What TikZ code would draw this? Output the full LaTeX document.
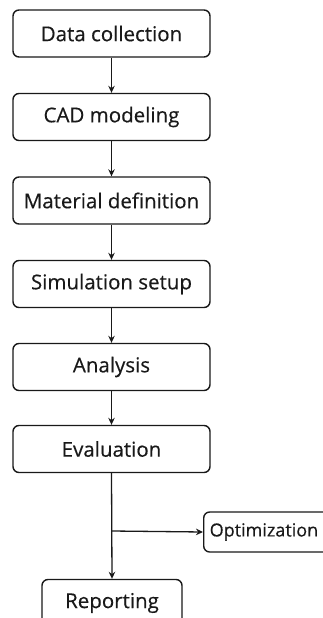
\documentclass[tikz,border=0pt]{standalone}
\usepackage{fontspec}
\setmainfont{Open Sans}[FakeBold=0.4]
\usetikzlibrary{arrows.meta}
\begin{document}
\begin{tikzpicture}[x=1pt,y=-1pt,
  stepbox/.style={draw=black!90, line width=1.4pt, rounded corners=6pt, minimum width=197pt, minimum height=47pt, inner sep=0pt, font=\fontsize{20.5}{25}\selectfont, text=black!90},
  arr/.style={draw=black!90, line width=1.3pt, -{Stealth[length=7pt,width=6.5pt]}}]
\useasboundingbox (0,0) rectangle (323,618);
\clip (0,0) rectangle (323,618);
\node[stepbox] (a) at (111.5,33.5) {Data collection};
\node[stepbox] (b) at (111.5,117) {CAD modeling};
\node[stepbox] (c) at (111.5,200.5) {Material definition};
\node[stepbox] (d) at (111.5,284) {Simulation setup};
\node[stepbox] (e) at (111.5,367) {Analysis};
\node[stepbox] (f) at (111.5,449) {Evaluation};
\node[stepbox, minimum width=140pt] (g) at (112,603) {Reporting};
\node[stepbox, minimum width=130pt, minimum height=40pt, anchor=west, text width=120pt, align=left, inner xsep=6pt, font=\fontsize{18}{22}\selectfont] (h) at (203,532) {Optimization};
\coordinate (j) at (112,531);
\draw[arr] (a) -- (b);
\draw[arr] (b) -- (c);
\draw[arr] (c) -- (d);
\draw[arr] (d) -- (e);
\draw[arr] (e) -- (f);
\draw[arr] (f.south) -- (g.north);
\draw[arr] (j) -- (h.west);
\end{tikzpicture}
\end{document}
